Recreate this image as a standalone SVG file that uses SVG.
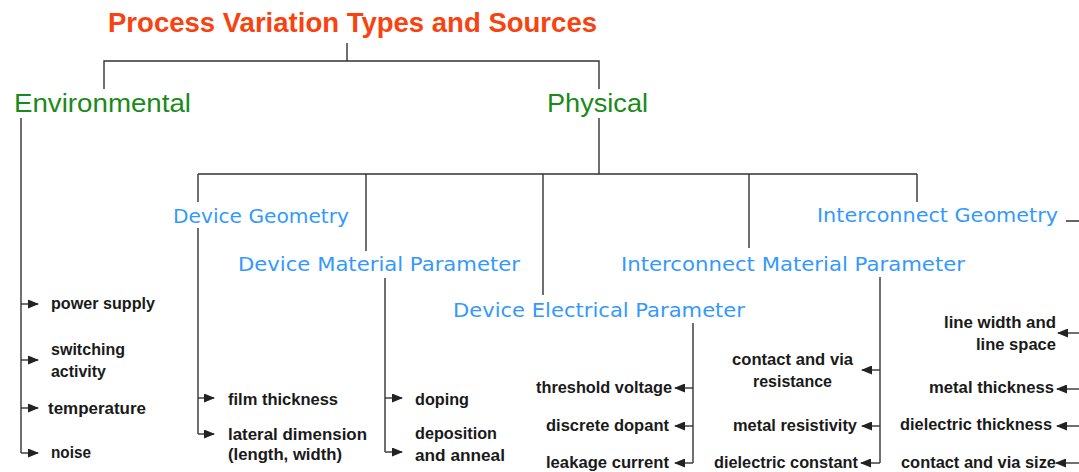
<svg xmlns="http://www.w3.org/2000/svg" width="1079" height="472" viewBox="0 0 1079 472">
<style>
.title{font-family:"Liberation Sans",Arial,sans-serif;font-weight:bold;font-size:27px;fill:#f8420f}
.green{font-family:"Liberation Sans",Arial,sans-serif;font-size:26.5px;fill:#1a8a1a}
.blue{font-family:"DejaVu Sans",Verdana,sans-serif;font-size:20px;fill:#3399ff}
.lbl{font-family:"Liberation Sans",Arial,sans-serif;font-weight:bold;font-size:17px;fill:#1a1a1a}
.ln{fill:none;stroke:#333;stroke-width:1.4}
.ar{fill:none;stroke:#333;stroke-width:1.4;marker-end:url(#ah)}
</style>
<defs>
<marker id="ah" markerUnits="userSpaceOnUse" markerWidth="11" markerHeight="9" refX="10" refY="4.5" orient="auto">
<path d="M0,0 L11,4.5 L0,9 z" fill="#222"/>
</marker>
</defs>
<rect width="1079" height="472" fill="#fff"/>
<g id="connectors">
<path class="ln" d="M347,43 V61 M104,89 V61 H599 V89"/>
<path class="ln" d="M21,118 V453"/>
<path class="ar" d="M21,304 H38"/>
<path class="ar" d="M21,360 H38"/>
<path class="ar" d="M21,408 H38"/>
<path class="ar" d="M21,453 H38"/>
<path class="ln" d="M599,118 V174 M198,174 H917 M198,174 V202 M366,174 V251 M543,174 V295 M749,174 V248 M917,174 V202"/>
<path class="ln" d="M198,228 V434"/>
<path class="ar" d="M198,398 H214"/>
<path class="ar" d="M198,434 H214"/>
<path class="ln" d="M385,278 V452"/>
<path class="ar" d="M385,398 H402"/>
<path class="ar" d="M385,452 H402"/>
<path class="ln" d="M693,323 V463"/>
<path class="ar" d="M693,388 H675"/>
<path class="ar" d="M693,426 H675"/>
<path class="ar" d="M693,463 H675"/>
<path class="ln" d="M880,277 V463"/>
<path class="ar" d="M880,370 H862"/>
<path class="ar" d="M880,426 H862"/>
<path class="ar" d="M880,463 H861"/>
<path class="ln" d="M1066,221 H1085 V463"/>
<path class="ar" d="M1085,333 H1058"/>
<path class="ar" d="M1085,389 H1057"/>
<path class="ar" d="M1085,426 H1057"/>
<path class="ar" d="M1085,463 H1056"/>
</g>
<g id="title"><text class="title" x="108" y="32" textLength="489" lengthAdjust="spacingAndGlyphs">Process Variation Types and Sources</text></g>
<g id="environmental">
<text class="green" x="14" y="112" textLength="177" lengthAdjust="spacingAndGlyphs">Environmental</text>
</g>
<g id="physical">
<text class="green" x="547" y="112" textLength="101" lengthAdjust="spacingAndGlyphs">Physical</text>
</g>
<g id="env-power"><text class="lbl" x="51" y="309" textLength="104" lengthAdjust="spacingAndGlyphs">power supply</text></g>
<g id="env-switching"><text class="lbl" x="51" y="355" textLength="74" lengthAdjust="spacingAndGlyphs">switching</text><text class="lbl" x="51" y="377" textLength="55" lengthAdjust="spacingAndGlyphs">activity</text></g>
<g id="env-temperature"><text class="lbl" x="48" y="414" textLength="98" lengthAdjust="spacingAndGlyphs">temperature</text></g>
<g id="env-noise"><text class="lbl" x="51" y="458" textLength="40" lengthAdjust="spacingAndGlyphs">noise</text></g>
<g id="device-geometry">
<text class="blue" x="173" y="223" textLength="176" lengthAdjust="spacingAndGlyphs">Device Geometry</text>
</g>
<g id="device-material">
<text class="blue" x="238" y="271" textLength="282" lengthAdjust="spacingAndGlyphs">Device Material Parameter</text>
</g>
<g id="device-electrical">
<text class="blue" x="453" y="317" textLength="292" lengthAdjust="spacingAndGlyphs">Device Electrical Parameter</text>
</g>
<g id="interconnect-material">
<text class="blue" x="621" y="271" textLength="344" lengthAdjust="spacingAndGlyphs">Interconnect Material Parameter</text>
</g>
<g id="interconnect-geometry">
<text class="blue" x="817" y="222" textLength="241" lengthAdjust="spacingAndGlyphs">Interconnect Geometry</text>
</g>
<g id="dg-film"><text class="lbl" x="228" y="405" textLength="110" lengthAdjust="spacingAndGlyphs">film thickness</text></g>
<g id="dg-lateral"><text class="lbl" x="228" y="440" textLength="139" lengthAdjust="spacingAndGlyphs">lateral dimension</text><text class="lbl" x="228" y="460" textLength="114" lengthAdjust="spacingAndGlyphs">(length, width)</text></g>
<g id="dm-doping"><text class="lbl" x="415" y="405" textLength="54" lengthAdjust="spacingAndGlyphs">doping</text></g>
<g id="dm-deposition"><text class="lbl" x="415" y="439" textLength="82" lengthAdjust="spacingAndGlyphs">deposition</text><text class="lbl" x="415" y="461" textLength="90" lengthAdjust="spacingAndGlyphs">and anneal</text></g>
<g id="de-threshold"><text class="lbl" x="536" y="393" textLength="136" lengthAdjust="spacingAndGlyphs">threshold voltage</text></g>
<g id="de-dopant"><text class="lbl" x="546" y="431" textLength="123" lengthAdjust="spacingAndGlyphs">discrete dopant</text></g>
<g id="de-leakage"><text class="lbl" x="546" y="468" textLength="123" lengthAdjust="spacingAndGlyphs">leakage current</text></g>
<g id="im-contact"><text class="lbl" x="732" y="365" textLength="121" lengthAdjust="spacingAndGlyphs">contact and via</text><text class="lbl" x="753" y="387" textLength="79" lengthAdjust="spacingAndGlyphs">resistance</text></g>
<g id="im-resistivity"><text class="lbl" x="733" y="431" textLength="124" lengthAdjust="spacingAndGlyphs">metal resistivity</text></g>
<g id="im-dielectric"><text class="lbl" x="714" y="468" textLength="144" lengthAdjust="spacingAndGlyphs">dielectric constant</text></g>
<g id="ig-line"><text class="lbl" x="944" y="328" textLength="112" lengthAdjust="spacingAndGlyphs">line width and</text><text class="lbl" x="976" y="350" textLength="80" lengthAdjust="spacingAndGlyphs">line space</text></g>
<g id="ig-metal"><text class="lbl" x="929" y="393" textLength="125" lengthAdjust="spacingAndGlyphs">metal thickness</text></g>
<g id="ig-dielectric"><text class="lbl" x="900" y="430" textLength="152" lengthAdjust="spacingAndGlyphs">dielectric thickness</text></g>
<g id="ig-contact"><text class="lbl" x="901" y="468" textLength="155" lengthAdjust="spacingAndGlyphs">contact and via size</text></g>
</svg>
